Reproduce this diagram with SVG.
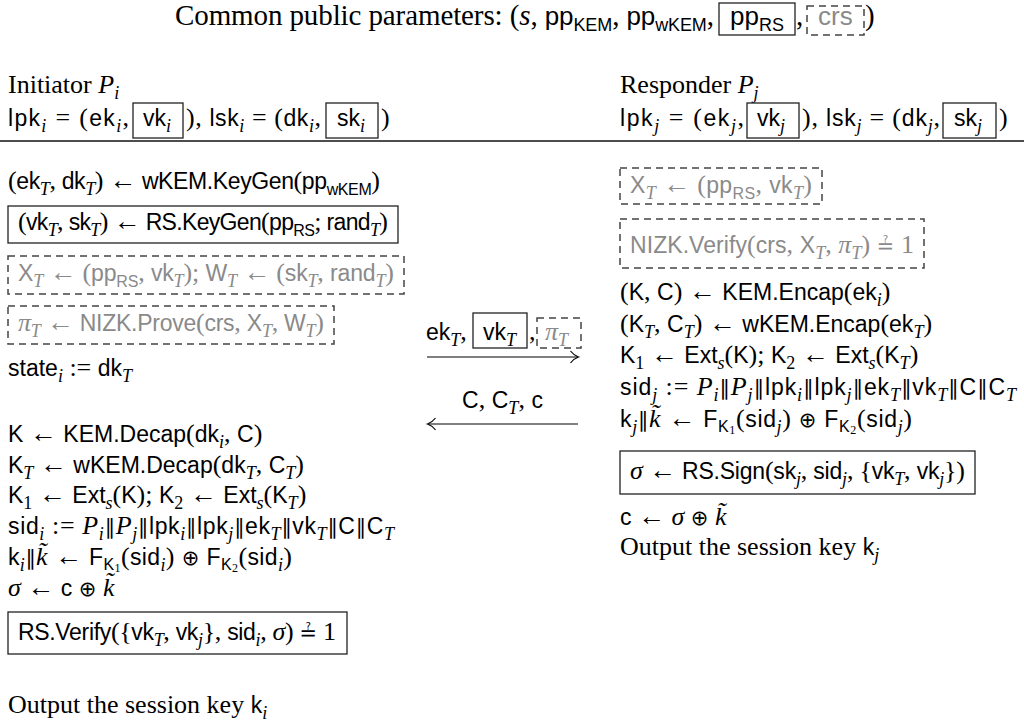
<svg xmlns="http://www.w3.org/2000/svg" width="1024" height="723" viewBox="0 0 1024 723">
<style>
text{fill:#000}
.r{font-family:"Liberation Serif","Times New Roman",serif;font-size:26px}
.sf{font-family:"Liberation Sans",Arial,sans-serif;font-size:23px;font-style:normal}
.it{font-family:"Liberation Serif","Times New Roman",serif;font-style:italic;font-size:26px}
.sb{font-size:18px}
.ssb{font-family:"Liberation Sans",Arial,sans-serif;font-size:16px;font-style:normal}
.sb2{font-family:"Liberation Serif",serif;font-size:12px;font-style:normal}
.sy{font-family:"DejaVu Sans",sans-serif;font-size:21px;font-style:normal}
.ar{font-family:"Liberation Serif","Times New Roman",serif;font-size:27px;font-style:normal}
.tr{font-family:"Liberation Serif","Times New Roman",serif;font-size:29px}
.tsf{font-family:"Liberation Sans",Arial,sans-serif;font-size:26px}
.tit{font-family:"Liberation Serif",serif;font-style:italic;font-size:29px}
.tsb{font-family:"Liberation Sans",Arial,sans-serif;font-size:18px}
.g{fill:#8a8a8a}
.g tspan{fill:#8a8a8a}
.box{fill:none;stroke:#222;stroke-width:1.3}
.dbox{fill:none;stroke:#444;stroke-width:1.5;stroke-dasharray:7 5}
.conn{fill:none;stroke:#000;stroke-width:1.2}
</style>

<g id="title">
<text class="tr" x="175" y="25" textLength="539">Common public parameters: (<tspan class="tit">s</tspan>, <tspan class="tsf">pp</tspan><tspan class="tsb" dy="6">KEM</tspan><tspan dy="-6">, </tspan><tspan class="tsf">pp</tspan><tspan class="tsb" dy="6">wKEM</tspan><tspan dy="-6">,</tspan></text>
<rect class="box" x="719" y="3" width="76" height="32"/>
<text class="tsf" x="730" y="25">pp<tspan class="tsb" dy="6">RS</tspan></text>
<text class="tr" x="796" y="25">,</text>
<rect class="dbox" x="807" y="6" width="57" height="29"/>
<text class="tsf g" x="818" y="25">crs</text>
<text class="tr" x="865" y="25">)</text>
</g>

<g id="initiator-header">
<text class="r" x="8" y="93">Initiator <tspan class="it">P</tspan><tspan class="it sb" dy="6">i</tspan></text>
<text class="r" x="8" y="126" textLength="121"><tspan class="sf">lpk</tspan><tspan class="it sb" dy="6">i</tspan><tspan dy="-6"> = (</tspan><tspan class="sf">ek</tspan><tspan class="it sb" dy="6">i</tspan><tspan dy="-6">,</tspan></text>
<rect class="box" x="133" y="103" width="50" height="35"/>
<text class="sf" x="143" y="126">vk<tspan class="it sb" dy="6">i</tspan></text>
<text class="r" x="186" y="126" textLength="135">), <tspan class="sf">lsk</tspan><tspan class="it sb" dy="6">i</tspan><tspan dy="-6"> = (</tspan><tspan class="sf">dk</tspan><tspan class="it sb" dy="6">i</tspan><tspan dy="-6">,</tspan></text>
<rect class="box" x="326" y="103" width="52" height="35"/>
<text class="sf" x="337" y="126">sk<tspan class="it sb" dy="6">i</tspan></text>
<text class="r" x="381" y="126">)</text>
</g>

<g id="responder-header">
<text class="r" x="620" y="93">Responder <tspan class="it">P</tspan><tspan class="it sb" dy="6">j</tspan></text>
<text class="r" x="620" y="126" textLength="124"><tspan class="sf">lpk</tspan><tspan class="it sb" dy="6">j</tspan><tspan dy="-6"> = (</tspan><tspan class="sf">ek</tspan><tspan class="it sb" dy="6">j</tspan><tspan dy="-6">,</tspan></text>
<rect class="box" x="747" y="103" width="52" height="35"/>
<text class="sf" x="757" y="126">vk<tspan class="it sb" dy="6">j</tspan></text>
<text class="r" x="802" y="126" textLength="138">), <tspan class="sf">lsk</tspan><tspan class="it sb" dy="6">j</tspan><tspan dy="-6"> = (</tspan><tspan class="sf">dk</tspan><tspan class="it sb" dy="6">j</tspan><tspan dy="-6">,</tspan></text>
<rect class="box" x="943" y="103" width="53" height="35"/>
<text class="sf" x="954" y="126">sk<tspan class="it sb" dy="6">j</tspan></text>
<text class="r" x="999" y="126">)</text>
</g>

<g id="rule">
<line x1="0" y1="141" x2="1024" y2="141" stroke="#4d4d4d" stroke-width="2"/>
</g>

<g id="initiator-keygen">
<text class="r" x="8" y="189" textLength="372">(<tspan class="sf">ek</tspan><tspan class="it sb" dy="6">T</tspan><tspan dy="-6">, </tspan><tspan class="sf">dk</tspan><tspan class="it sb" dy="6">T</tspan><tspan dy="-6">) </tspan><tspan class="ar">←</tspan> <tspan class="sf">wKEM.KeyGen</tspan>(<tspan class="sf">pp</tspan><tspan class="ssb" dy="6">wKEM</tspan><tspan dy="-6">)</tspan></text>
</g>
<g id="initiator-rs-keygen">
<rect class="box" x="8" y="206" width="390" height="37"/>
<text class="r" x="18" y="230" textLength="370">(<tspan class="sf">vk</tspan><tspan class="it sb" dy="6">T</tspan><tspan dy="-6">, </tspan><tspan class="sf">sk</tspan><tspan class="it sb" dy="6">T</tspan><tspan dy="-6">) </tspan><tspan class="ar">←</tspan> <tspan class="sf">RS.KeyGen</tspan>(<tspan class="sf">pp</tspan><tspan class="ssb" dy="6">RS</tspan><tspan dy="-6">; </tspan><tspan class="sf">rand</tspan><tspan class="it sb" dy="6">T</tspan><tspan dy="-6">)</tspan></text>
</g>
<g id="initiator-statement">
<rect class="dbox" x="8" y="256" width="396" height="38"/>
<text class="r g" x="18" y="281" textLength="376"><tspan class="sf">X</tspan><tspan class="it sb" dy="6">T</tspan><tspan dy="-6"> </tspan><tspan class="ar">←</tspan> (<tspan class="sf">pp</tspan><tspan class="ssb" dy="6">RS</tspan><tspan dy="-6">, </tspan><tspan class="sf">vk</tspan><tspan class="it sb" dy="6">T</tspan><tspan dy="-6">); </tspan><tspan class="sf">W</tspan><tspan class="it sb" dy="6">T</tspan><tspan dy="-6"> </tspan><tspan class="ar">←</tspan> (<tspan class="sf">sk</tspan><tspan class="it sb" dy="6">T</tspan><tspan dy="-6">, </tspan><tspan class="sf">rand</tspan><tspan class="it sb" dy="6">T</tspan><tspan dy="-6">)</tspan></text>
</g>
<g id="initiator-prove">
<rect class="dbox" x="8" y="306" width="326" height="38"/>
<text class="r g" x="18" y="331" textLength="306"><tspan class="it">π</tspan><tspan class="it sb" dy="6">T</tspan><tspan dy="-6"> </tspan><tspan class="ar">←</tspan> <tspan class="sf">NIZK.Prove</tspan>(<tspan class="sf">crs</tspan>, <tspan class="sf">X</tspan><tspan class="it sb" dy="6">T</tspan><tspan dy="-6">, </tspan><tspan class="sf">W</tspan><tspan class="it sb" dy="6">T</tspan><tspan dy="-6">)</tspan></text>
</g>
<g id="initiator-state">
<text class="r" x="8" y="376"><tspan class="sf">state</tspan><tspan class="it sb" dy="6">i</tspan><tspan dy="-6"> := </tspan><tspan class="sf">dk</tspan><tspan class="it sb" dy="6">T</tspan></text>
</g>

<g id="initiator-decap">
<text class="r" x="8" y="442"><tspan class="sf">K</tspan> <tspan class="ar">←</tspan> <tspan class="sf">KEM.Decap</tspan>(<tspan class="sf">dk</tspan><tspan class="it sb" dy="6">i</tspan><tspan dy="-6">, </tspan><tspan class="sf">C</tspan>)</text>
<text class="r" x="8" y="472.5"><tspan class="sf">K</tspan><tspan class="it sb" dy="6">T</tspan><tspan dy="-6"> </tspan><tspan class="ar">←</tspan> <tspan class="sf">wKEM.Decap</tspan>(<tspan class="sf">dk</tspan><tspan class="it sb" dy="6">T</tspan><tspan dy="-6">, </tspan><tspan class="sf">C</tspan><tspan class="it sb" dy="6">T</tspan><tspan dy="-6">)</tspan></text>
<text class="r" x="8" y="503"><tspan class="sf">K</tspan><tspan class="sb" dy="6">1</tspan><tspan dy="-6"> </tspan><tspan class="ar">←</tspan> <tspan class="sf">Ext</tspan><tspan class="it sb" dy="6">s</tspan><tspan dy="-6">(</tspan><tspan class="sf">K</tspan>); <tspan class="sf">K</tspan><tspan class="sb" dy="6">2</tspan><tspan dy="-6"> </tspan><tspan class="ar">←</tspan> <tspan class="sf">Ext</tspan><tspan class="it sb" dy="6">s</tspan><tspan dy="-6">(</tspan><tspan class="sf">K</tspan><tspan class="it sb" dy="6">T</tspan><tspan dy="-6">)</tspan></text>
<text class="r" x="8" y="533.5" textLength="386"><tspan class="sf">sid</tspan><tspan class="it sb" dy="6">i</tspan><tspan dy="-6"> := </tspan><tspan class="it">P</tspan><tspan class="it sb" dy="6">i</tspan><tspan class="sy" dy="-6">∥</tspan><tspan class="it">P</tspan><tspan class="it sb" dy="6">j</tspan><tspan class="sy" dy="-6">∥</tspan><tspan class="sf">lpk</tspan><tspan class="it sb" dy="6">i</tspan><tspan class="sy" dy="-6">∥</tspan><tspan class="sf">lpk</tspan><tspan class="it sb" dy="6">j</tspan><tspan class="sy" dy="-6">∥</tspan><tspan class="sf">ek</tspan><tspan class="it sb" dy="6">T</tspan><tspan class="sy" dy="-6">∥</tspan><tspan class="sf">vk</tspan><tspan class="it sb" dy="6">T</tspan><tspan class="sy" dy="-6">∥</tspan><tspan class="sf">C</tspan><tspan class="sy">∥</tspan><tspan class="sf">C</tspan><tspan class="it sb" dy="6">T</tspan></text>
<text class="r" x="8" y="565" textLength="284"><tspan class="sf">k</tspan><tspan class="it sb" dy="6">i</tspan><tspan class="sy" dy="-6">∥</tspan><tspan class="it">k&#x303;</tspan> <tspan class="ar">←</tspan> <tspan class="sf">F</tspan><tspan class="ssb" dy="5">K</tspan><tspan class="sb2" dy="2">1</tspan><tspan dy="-7">(</tspan><tspan class="sf">sid</tspan><tspan class="it sb" dy="6">i</tspan><tspan dy="-6">) </tspan><tspan class="sy">⊕</tspan> <tspan class="sf">F</tspan><tspan class="ssb" dy="5">K</tspan><tspan class="sb2" dy="2">2</tspan><tspan dy="-7">(</tspan><tspan class="sf">sid</tspan><tspan class="it sb" dy="6">i</tspan><tspan dy="-6">)</tspan></text>
<text class="r" x="8" y="595.5"><tspan class="it">σ</tspan> <tspan class="ar">←</tspan> <tspan class="sf">c</tspan> <tspan class="sy">⊕</tspan> <tspan class="it">k&#x303;</tspan></text>
</g>
<g id="initiator-verify">
<rect class="box" x="8" y="612" width="339" height="42"/>
<text class="r" x="18" y="640" textLength="318"><tspan class="sf">RS.Verify</tspan>({<tspan class="sf">vk</tspan><tspan class="it sb" dy="6">T</tspan><tspan dy="-6">, </tspan><tspan class="sf">vk</tspan><tspan class="it sb" dy="6">j</tspan><tspan dy="-6">}, </tspan><tspan class="sf">sid</tspan><tspan class="it sb" dy="6">i</tspan><tspan dy="-6">, </tspan><tspan class="it">σ</tspan>) <tspan class="sy">≟</tspan> 1</text>
</g>
<g id="initiator-output">
<text class="r" x="8" y="713">Output the session key <tspan class="sf">k</tspan><tspan class="it sb" dy="6">i</tspan></text>
</g>

<g id="responder-statement">
<rect class="dbox" x="620" y="168" width="202" height="36"/>
<text class="r g" x="630" y="193" textLength="182"><tspan class="sf">X</tspan><tspan class="it sb" dy="6">T</tspan><tspan dy="-6"> </tspan><tspan class="ar">←</tspan> (<tspan class="sf">pp</tspan><tspan class="ssb" dy="6">RS</tspan><tspan dy="-6">, </tspan><tspan class="sf">vk</tspan><tspan class="it sb" dy="6">T</tspan><tspan dy="-6">)</tspan></text>
</g>
<g id="responder-verify-proof">
<rect class="dbox" x="620" y="219" width="304" height="49"/>
<text class="r g" x="630" y="253" textLength="284"><tspan class="sf">NIZK.Verify</tspan>(<tspan class="sf">crs</tspan>, <tspan class="sf">X</tspan><tspan class="it sb" dy="6">T</tspan><tspan dy="-6">, </tspan><tspan class="it">π</tspan><tspan class="it sb" dy="6">T</tspan><tspan dy="-6">) </tspan><tspan class="sy">≟</tspan> 1</text>
</g>
<g id="responder-encap">
<text class="r" x="620" y="300">(<tspan class="sf">K</tspan>, <tspan class="sf">C</tspan>) <tspan class="ar">←</tspan> <tspan class="sf">KEM.Encap</tspan>(<tspan class="sf">ek</tspan><tspan class="it sb" dy="6">i</tspan><tspan dy="-6">)</tspan></text>
<text class="r" x="620" y="332">(<tspan class="sf">K</tspan><tspan class="it sb" dy="6">T</tspan><tspan dy="-6">, </tspan><tspan class="sf">C</tspan><tspan class="it sb" dy="6">T</tspan><tspan dy="-6">) </tspan><tspan class="ar">←</tspan> <tspan class="sf">wKEM.Encap</tspan>(<tspan class="sf">ek</tspan><tspan class="it sb" dy="6">T</tspan><tspan dy="-6">)</tspan></text>
<text class="r" x="620" y="363"><tspan class="sf">K</tspan><tspan class="sb" dy="6">1</tspan><tspan dy="-6"> </tspan><tspan class="ar">←</tspan> <tspan class="sf">Ext</tspan><tspan class="it sb" dy="6">s</tspan><tspan dy="-6">(</tspan><tspan class="sf">K</tspan>); <tspan class="sf">K</tspan><tspan class="sb" dy="6">2</tspan><tspan dy="-6"> </tspan><tspan class="ar">←</tspan> <tspan class="sf">Ext</tspan><tspan class="it sb" dy="6">s</tspan><tspan dy="-6">(</tspan><tspan class="sf">K</tspan><tspan class="it sb" dy="6">T</tspan><tspan dy="-6">)</tspan></text>
<text class="r" x="620" y="395" textLength="396"><tspan class="sf">sid</tspan><tspan class="it sb" dy="6">j</tspan><tspan dy="-6"> := </tspan><tspan class="it">P</tspan><tspan class="it sb" dy="6">i</tspan><tspan class="sy" dy="-6">∥</tspan><tspan class="it">P</tspan><tspan class="it sb" dy="6">j</tspan><tspan class="sy" dy="-6">∥</tspan><tspan class="sf">lpk</tspan><tspan class="it sb" dy="6">i</tspan><tspan class="sy" dy="-6">∥</tspan><tspan class="sf">lpk</tspan><tspan class="it sb" dy="6">j</tspan><tspan class="sy" dy="-6">∥</tspan><tspan class="sf">ek</tspan><tspan class="it sb" dy="6">T</tspan><tspan class="sy" dy="-6">∥</tspan><tspan class="sf">vk</tspan><tspan class="it sb" dy="6">T</tspan><tspan class="sy" dy="-6">∥</tspan><tspan class="sf">C</tspan><tspan class="sy">∥</tspan><tspan class="sf">C</tspan><tspan class="it sb" dy="6">T</tspan></text>
<text class="r" x="620" y="427" textLength="292"><tspan class="sf">k</tspan><tspan class="it sb" dy="6">j</tspan><tspan class="sy" dy="-6">∥</tspan><tspan class="it">k&#x303;</tspan> <tspan class="ar">←</tspan> <tspan class="sf">F</tspan><tspan class="ssb" dy="5">K</tspan><tspan class="sb2" dy="2">1</tspan><tspan dy="-7">(</tspan><tspan class="sf">sid</tspan><tspan class="it sb" dy="6">j</tspan><tspan dy="-6">) </tspan><tspan class="sy">⊕</tspan> <tspan class="sf">F</tspan><tspan class="ssb" dy="5">K</tspan><tspan class="sb2" dy="2">2</tspan><tspan dy="-7">(</tspan><tspan class="sf">sid</tspan><tspan class="it sb" dy="6">j</tspan><tspan dy="-6">)</tspan></text>
</g>
<g id="responder-sign">
<rect class="box" x="620" y="451" width="355" height="43"/>
<text class="r" x="630" y="479" textLength="335"><tspan class="it">σ</tspan> <tspan class="ar">←</tspan> <tspan class="sf">RS.Sign</tspan>(<tspan class="sf">sk</tspan><tspan class="it sb" dy="6">j</tspan><tspan dy="-6">, </tspan><tspan class="sf">sid</tspan><tspan class="it sb" dy="6">j</tspan><tspan dy="-6">, {</tspan><tspan class="sf">vk</tspan><tspan class="it sb" dy="6">T</tspan><tspan dy="-6">, </tspan><tspan class="sf">vk</tspan><tspan class="it sb" dy="6">j</tspan><tspan dy="-6">})</tspan></text>
</g>
<g id="responder-final">
<text class="r" x="620" y="525"><tspan class="sf">c</tspan> <tspan class="ar">←</tspan> <tspan class="it">σ</tspan> <tspan class="sy">⊕</tspan> <tspan class="it">k&#x303;</tspan></text>
<text class="r" x="620" y="555">Output the session key <tspan class="sf">k</tspan><tspan class="it sb" dy="6">j</tspan></text>
</g>

<g id="msg1-label">
<text class="r" x="426" y="340"><tspan class="sf">ek</tspan><tspan class="it sb" dy="6">T</tspan><tspan dy="-6">,</tspan></text>
<rect class="box" x="473" y="313" width="54" height="35"/>
<text class="sf" x="483" y="340">vk<tspan class="it sb" dy="6">T</tspan></text>
<text class="r" x="529" y="340">,</text>
<rect class="dbox" x="537" y="318" width="44" height="30"/>
<text class="it g" x="545" y="340">π<tspan class="sb" dy="6">T</tspan></text>
</g>
<g id="msg2-label">
<text class="r" x="502.5" y="408" text-anchor="middle"><tspan class="sf">C</tspan>, <tspan class="sf">C</tspan><tspan class="it sb" dy="6">T</tspan><tspan dy="-6">, </tspan><tspan class="sf">c</tspan></text>
</g>

<g id="connectors">
<line class="conn" x1="427" y1="357" x2="578" y2="357"/>
<path class="conn" d="M570.5,351 Q574,355.5 578.5,357 Q574,358.5 570.5,363"/>
<line class="conn" x1="428" y1="424" x2="578" y2="424"/>
<path class="conn" d="M435.5,418 Q432,422.5 427.5,424 Q432,425.5 435.5,430"/>
</g>
</svg>
